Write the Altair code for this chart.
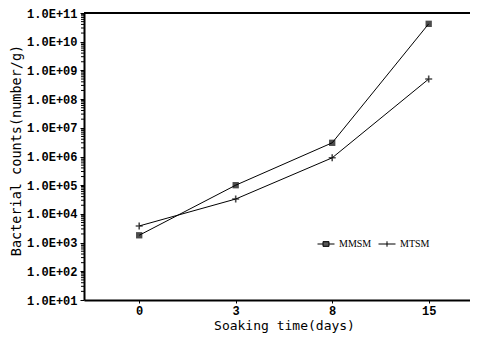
import altair as alt
import pandas as pd

days = ["0", "3", "8", "15"]
series_names = ["MMSM", "MTSM"]
mmsm = [1.8e3, 1.0e5, 3.0e6, 4.2e10]
mtsm = [3.8e3, 3.3e4, 9.0e5, 5.0e8]
y_ticks = [1e1, 1e2, 1e3, 1e4, 1e5, 1e6, 1e7, 1e8, 1e9, 1e10, 1e11]
minor_mult = [2, 3, 4, 5, 6, 7, 8, 9]

rows = []
for d, a, b in zip(days, mmsm, mtsm):
    rows.append({"day": d, "series": "MMSM", "count": a})
    rows.append({"day": d, "series": "MTSM", "count": b})
df = pd.DataFrame(rows)

minor_df = pd.DataFrame({"count": [m * t for t in y_ticks[:-1] for m in minor_mult]})

W, H = 386, 287
MONO = "Liberation Mono"

x_enc = alt.X(
    "day:O", sort=days,
    scale=alt.Scale(type="point", paddingOuter=0.45, align=0.572),
    axis=alt.Axis(
        title="Soaking time(days)", labelAngle=0, labelFont=MONO, labelFontWeight="bold",
        labelFontSize=12, labelPadding=2, tickSize=3,
        titleFont="DejaVu Sans Mono", titleFontSize=13, titleFontWeight="normal",
        titleX=200, titleY=25, titleBaseline="middle",
    ),
)
y_scale = alt.Scale(type="log", domain=[10, 1e11])
y_enc = alt.Y(
    "count:Q", scale=y_scale,
    axis=alt.Axis(
        values=y_ticks, title="Bacterial counts(number/g)",
        labelExpr="'1.0E+' + (round(log(datum.value)/LN10) < 10 ? '0' : '') + round(log(datum.value)/LN10)",
        labelFont=MONO, labelFontWeight="bold", labelFontSize=12, labelPadding=3, tickSize=4,
        titleFont="DejaVu Sans Mono", titleFontSize=13.5, titleFontWeight="normal",
        titleX=-68, titleY=137, titleBaseline="middle", titleAngle=-90,
    ),
)

base = alt.Chart(df).encode(x=x_enc, y=y_enc)

lines = base.mark_line(color="black", strokeWidth=1).encode(detail="series:N")
squares = base.transform_filter(alt.datum.series == "MMSM").mark_point(
    shape="square", filled=True, size=40, color="black")
pluses = base.transform_filter(alt.datum.series == "MTSM").mark_point(
    shape="M-1,0H1M0,-1V1", filled=False, size=49, strokeWidth=1.6, color="black")

legend_layer = base.transform_filter("false").mark_point(
    filled=False, color="black", strokeWidth=1, size=289, opacity=1
).encode(
    shape=alt.Shape(
        "series:N",
        scale=alt.Scale(domain=series_names,
                        range=["M-1,0H1M-0.35,-0.28H0.35V0.28H-0.35ZM-0.35,-0.14H0.35M-0.35,0.14H0.35",
                               "M-1,0H1M0,-0.32V0.32"]),
        legend=alt.Legend(
            title=None, orient="none", legendX=233, legendY=222, direction="horizontal",
            labelFont="Liberation Serif", labelFontSize=10, labelColor="black",
            symbolSize=289, symbolStrokeWidth=1, symbolStrokeColor="black",
            labelOffset=4, columnPadding=4, symbolOpacity=1,
        ),
    )
)

minor = alt.Chart(minor_df).mark_rule(color="black", strokeWidth=1).encode(
    y=alt.Y("count:Q", scale=y_scale), x=alt.value(-3), x2=alt.value(0))

top_line = alt.Chart(alt.Data(values=[{}])).mark_rule(color="black", strokeWidth=2).encode(
    y=alt.value(0), x=alt.value(0), x2=alt.value(W))

chart = alt.layer(lines, squares, pluses, legend_layer, minor, top_line).resolve_scale(
    shape="independent"
).properties(
    width=W, height=H,
    padding={"left": 76, "top": 5, "right": 0, "bottom": 34},
    autosize=alt.AutoSizeParams(type="none"),
).configure_view(stroke=None).configure_axis(
    grid=False, domainColor="black", domainWidth=2, tickColor="black",
    labelColor="black", titleColor="black",
)

chart.save("out.html", embed_options={"renderer": "svg", "actions": False})
